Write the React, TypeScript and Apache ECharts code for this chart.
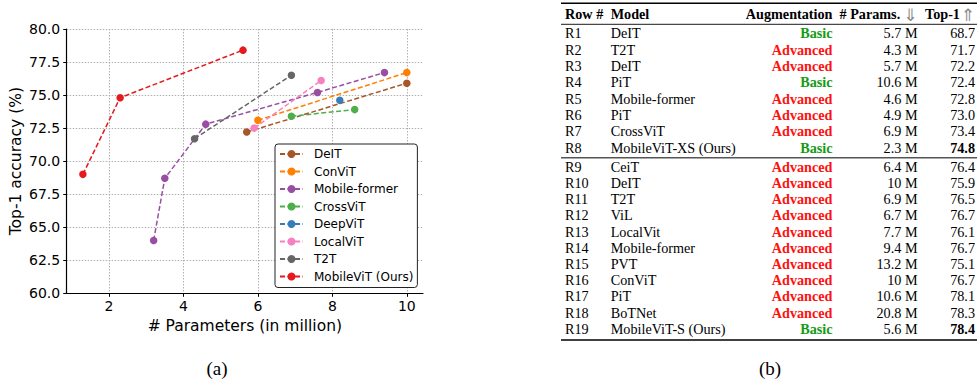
import React, { useEffect, useRef } from "react";
import * as echarts from "echarts";

// ---------- chart (a) data ----------
const seriesNames = ["DeIT", "ConViT", "Mobile-former", "CrossViT", "DeepViT", "LocalViT", "T2T", "MobileViT (Ours)"];
const seriesColors = ["#a65628", "#ff7f00", "#984ea3", "#4daf4a", "#377eb8", "#f781bf", "#666666", "#e41a1c"];
const deitData = [[5.7, 72.2], [10, 75.9]];
const convitData = [[6.0, 73.1], [10, 76.7]];
const mobileFormerData = [[3.2, 64.0], [3.5, 68.7], [4.6, 72.8], [7.6, 75.2], [9.4, 76.7]];
const crossvitData = [[6.9, 73.4], [8.6, 73.9]];
const deepvitData = [[8.2, 74.6]];
const localvitData = [[5.9, 72.5], [7.7, 76.1]];
const t2tData = [[4.3, 71.7], [6.9, 76.5]];
const mobilevitData = [[1.3, 69.0], [2.3, 74.8], [5.6, 78.4]];
const allSeriesData = [deitData, convitData, mobileFormerData, crossvitData, deepvitData, localvitData, t2tData, mobilevitData];
const xTickValues = [2, 4, 6, 8, 10];

// ---------- table (b) data ----------
const tableHeaders = ["Row #", "Model", "Augmentation", "# Params.", "Top-1"];
const rowIds = ["R1", "R2", "R3", "R4", "R5", "R6", "R7", "R8", "R9", "R10", "R11", "R12", "R13", "R14", "R15", "R16", "R17", "R18", "R19"];
const models = ["DeIT", "T2T", "DeIT", "PiT", "Mobile-former", "PiT", "CrossViT", "MobileViT-XS (Ours)", "CeiT", "DeIT", "T2T", "ViL", "LocalVit", "Mobile-former", "PVT", "ConViT", "PiT", "BoTNet", "MobileViT-S (Ours)"];
const augmentations = ["Basic", "Advanced", "Advanced", "Basic", "Advanced", "Advanced", "Advanced", "Basic", "Advanced", "Advanced", "Advanced", "Advanced", "Advanced", "Advanced", "Advanced", "Advanced", "Advanced", "Advanced", "Basic"];
const params = ["5.7 M", "4.3 M", "5.7 M", "10.6 M", "4.6 M", "4.9 M", "6.9 M", "2.3 M", "6.4 M", "10 M", "6.9 M", "6.7 M", "7.7 M", "9.4 M", "13.2 M", "10 M", "10.6 M", "20.8 M", "5.6 M"];
const top1 = ["68.7", "71.7", "72.2", "72.4", "72.8", "73.0", "73.4", "74.8", "76.4", "75.9", "76.5", "76.7", "76.1", "76.7", "75.1", "76.7", "78.1", "78.3", "78.4"];
const boldRows = ["R8", "R19"];

const SERIF = "'Liberation Serif', 'Times New Roman', serif";
const SANS = "'DejaVu Sans', sans-serif";

function buildTable(): any[] {
  const els: any[] = [];
  const colRow = 565;
  const colModel = 610.7;
  const colAug = 832.5;
  const colParams = 917.5;
  const colTop = 975;
  const ruleL = 561;
  const ruleR = 977;
  const fs = 14.2;
  const txt = (text: string, x: number, y: number, align: string, opts: any = {}) => ({
    type: "text",
    x,
    y,
    silent: true,
    style: {
      text,
      align,
      verticalAlign: "middle",
      font: `${opts.bold ? "bold " : ""}${opts.size || fs}px ${opts.family || SERIF}`,
      fill: opts.fill || "#000",
    },
  });
  const rule = (y: number, w: number, c: string) => ({
    type: "line",
    silent: true,
    shape: { x1: ruleL, y1: y, x2: ruleR, y2: y },
    style: { stroke: c, lineWidth: w },
  });
  // rules
  els.push(rule(3.3, 1.4, "#000"));
  els.push(rule(24.3, 0.9, "#000"));
  els.push(rule(157.8, 1.4, "#555"));
  els.push(rule(340, 1.4, "#000"));
  // header
  const hy = 14;
  els.push(txt(tableHeaders[0], colRow, hy, "left", { bold: true }));
  els.push(txt(tableHeaders[1], colModel, hy, "left", { bold: true }));
  els.push(txt(tableHeaders[2], colAug, hy, "right", { bold: true }));
  els.push(txt(tableHeaders[3], 839.5, hy, "left", { bold: true }));
  els.push(txt("⇓", 910.5, hy + 1, "center", { size: 17, family: SANS, fill: "#888" }));
  els.push(txt(tableHeaders[4], 925, hy, "left", { bold: true }));
  els.push(txt("⇑", 968, hy + 1, "center", { size: 17, family: SANS, fill: "#888" }));
  // rows
  for (let i = 0; i < rowIds.length; i++) {
    const y = i < 8 ? 33.3 + i * 16.34 : 166.7 + (i - 8) * 16.2;
    const basic = augmentations[i] === "Basic";
    els.push(txt(rowIds[i], colRow, y, "left"));
    els.push(txt(models[i], colModel, y, "left"));
    els.push(txt(augmentations[i], colAug, y, "right", { bold: true, fill: basic ? "#159a15" : "#ff1111" }));
    els.push(txt(params[i], colParams, y, "right"));
    els.push(txt(top1[i], colTop, y, "right", { bold: boldRows.includes(rowIds[i]) }));
  }
  // captions
  els.push(txt("(a)", 217, 368, "center", { size: 19 }));
  els.push(txt("(b)", 770, 368, "center", { size: 19 }));
  return els;
}

export default function App() {
  const ref = useRef<HTMLDivElement>(null);
  useEffect(() => {
    if (!ref.current) return;
    const chart = echarts.init(ref.current, null, { renderer: "svg" });
    const gridLeft = 66.7;
    const gridTop = 29;
    const gridRight = 423;
    const gridBottom = 293.3;
    chart.setOption({
      animation: false,
      backgroundColor: "#fff",
      grid: {
        left: gridLeft,
        top: gridTop,
        width: gridRight - gridLeft,
        height: gridBottom - gridTop,
        containLabel: false,
      },
      xAxis: {
        type: "value",
        min: 0.865,
        max: 10.435,
        name: "# Parameters (in million)",
        nameLocation: "middle",
        nameGap: 23,
        nameTextStyle: { fontFamily: SANS, fontSize: 15.5, color: "#000" },
        axisLine: { show: true, onZero: false, lineStyle: { color: "#000", width: 1.2 } },
        axisTick: { show: true, length: 3.5, customValues: xTickValues, lineStyle: { color: "#000" } },
        axisLabel: {
          customValues: xTickValues,
          margin: 6,
          fontFamily: SANS,
          fontSize: 14,
          color: "#000",
          formatter: (v: number) => String(v),
        },
        splitLine: { show: true, lineStyle: { color: "#a8a8a8", type: [1.5, 1.5], width: 0.9 } },
      },
      yAxis: {
        type: "value",
        min: 60,
        max: 80,
        interval: 2.5,
        name: "Top-1 accuracy (%)",
        nameLocation: "middle",
        nameGap: 43,
        nameTextStyle: { fontFamily: SANS, fontSize: 15.5, color: "#000" },
        axisLine: { show: true, onZero: false, lineStyle: { color: "#000", width: 1.2 } },
        axisTick: { show: true, length: 3.5, lineStyle: { color: "#000" } },
        axisLabel: {
          margin: 6.5,
          fontFamily: SANS,
          fontSize: 14,
          color: "#000",
          formatter: (v: number) => v.toFixed(1),
        },
        splitLine: { show: true, lineStyle: { color: "#a8a8a8", type: [1.5, 1.5], width: 0.9 } },
      },
      legend: {
        left: 275,
        top: 144,
        orient: "vertical",
        data: seriesNames,
        backgroundColor: "#fff",
        borderColor: "#222",
        borderWidth: 1,
        borderRadius: 3,
        padding: [3, 4, 4, 4],
        itemWidth: 23,
        itemHeight: 10,
        itemGap: 3.5,
        textStyle: { fontFamily: SANS, fontSize: 12, color: "#000", lineHeight: 14, padding: [0, 0, 0, 6] },
      },
      series: seriesNames.map((name, i) => ({
        name,
        type: "line",
        data: allSeriesData[i],
        color: seriesColors[i],
        symbol: "circle",
        symbolSize: 7.5,
        showSymbol: true,
        lineStyle: { color: seriesColors[i], width: 1.5, type: [5, 2.5] },
        itemStyle: { color: seriesColors[i] },
        z: 2 + i,
        silent: true,
      })),
      graphic: buildTable(),
    });
    return () => chart.dispose();
  }, []);
  return <div ref={ref} style={{ position: "absolute", left: 0, top: 0, width: 979, height: 379 }} />;
}
